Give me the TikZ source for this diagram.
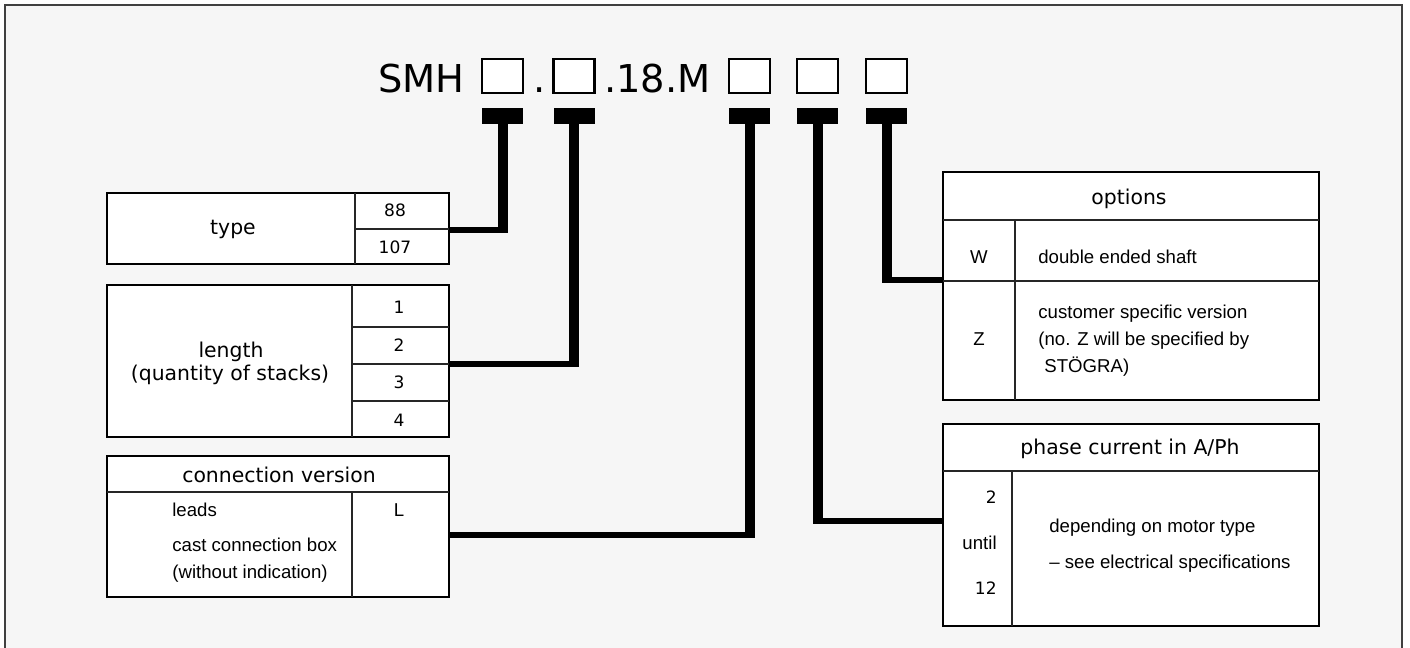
\documentclass[tikz,border=0pt]{standalone}
\usepackage{fontspec}
\setmainfont{Liberation Sans}
\newfontfamily\dejavu{DejaVu Sans}
\definecolor{bggray}{RGB}{246,246,246}
\definecolor{framegray}{RGB}{64,64,64}
\usetikzlibrary{calc}
\newdimen\px
\px=0.02cm
\tikzset{
  tbl/.style={draw=black, fill=white, line width=2.3\px, inner sep=0pt},
  cellline/.style={draw=black!85, line width=1.2\px},
  keysq/.style={draw=black, fill=white, line width=2.5\px, minimum width=41\px, minimum height=34\px, inner sep=0pt},
  tbar/.style={fill=black, minimum width=41\px, minimum height=16\px, inner sep=0pt},
  stem/.style={line width=10\px},
  lead/.style={line width=6\px},
  titletxt/.style={font=\dejavu\fontsize{21.85}{26}\selectfont, inner sep=0pt},
  lbl/.style={font=\dejavu\fontsize{11.6}{13}\selectfont, inner sep=0pt},
  num/.style={font=\dejavu\fontsize{9.7}{12}\selectfont, inner sep=0pt},
  txt/.style={font=\fontsize{10.6}{15.4}\selectfont, inner sep=0pt},
}

\begin{document}
\begin{tikzpicture}[x=0.02cm, y=-0.02cm]
  \useasboundingbox (0,0) rectangle (1410,648);
  \fill[bggray] (5,5) rectangle (1402,660);
  \draw[framegray, line width=2\px] (5,660) -- (5,5) -- (1402,5) -- (1402,660);

  \node[titletxt, anchor=base west] (smh) at (378,93) {SMH};
  \node[keysq] (b1) at (502.5,76) {};
  \node[titletxt, anchor=base] (dot1) at (540,93) {.};
  \node[keysq] (b2) at (574,76) {};
  \node[titletxt, anchor=base west] (mid) at (604,93) {.18.M};
  \node[keysq] (b3) at (749.5,76) {};
  \node[keysq] (b4) at (817.5,76) {};
  \node[keysq] (b5) at (886.5,76) {};

  \node[tbar] (t1) at (502.5,116) {};
  \node[tbar] (t2) at (574,116) {};
  \node[tbar] (t3) at (749.5,116) {};
  \node[tbar] (t4) at (817.5,116) {};
  \node[tbar] (t5) at (886.5,116) {};

  \node[tbl, minimum width=342\px, minimum height=71\px] (type) at (278,228.5) {};
  \draw[cellline] (355,193) -- (355,264);
  \draw[cellline] (355,229) -- (449,229);
  \node[lbl, anchor=base] (typelbl) at (233,235) {type};
  \node[num, anchor=base] (n88) at (395,217) {88};
  \node[num, anchor=base] (n107) at (395,254) {107};

  \node[tbl, minimum width=342\px, minimum height=152\px] (length) at (278,361) {};
  \draw[cellline] (352,285) -- (352,437);
  \draw[cellline] (352,327) -- (449,327) (352,364) -- (449,364) (352,401) -- (449,401);
  \node[lbl, anchor=base] (lenlbl) at (231,358) {length};
  \node[lbl, anchor=base] (lenqty) at (230,381) {(quantity of stacks)};
  \node[num, anchor=base] (n1) at (399,314) {1};
  \node[num, anchor=base] (n2) at (399,352) {2};
  \node[num, anchor=base] (n3) at (399,389) {3};
  \node[num, anchor=base] (n4) at (399,427) {4};

  \node[tbl, minimum width=342\px, minimum height=141\px] (conn) at (278,526.5) {};
  \draw[cellline] (107,492) -- (449,492);
  \draw[cellline] (352,492) -- (352,597);
  \node[lbl, anchor=base] (conhead) at (279,482) {connection version};
  \node[txt, anchor=base west] (leads) at (172,516) {leads};
  \node[txt, anchor=base west] (cast) at (172,551) {cast connection box};
  \node[txt, anchor=base west] (without) at (172,578) {(without indication)};
  \node[txt, anchor=base] (conL) at (399,516) {L};

  \node[tbl, minimum width=376\px, minimum height=228\px] (opts) at (1131,286) {};
  \draw[cellline] (943,220) -- (1319,220);
  \draw[cellline] (943,281) -- (1319,281);
  \draw[cellline] (1015,220) -- (1015,400);
  \node[lbl, anchor=base] (opthead) at (1129,205) {options};
  \node[txt, anchor=base] (optW) at (979,264) {W};
  \node[txt, anchor=base west] (optWtxt) at (1038,264) {double ended shaft};
  \node[txt, anchor=base] (optZ) at (979,346) {Z};
  \node[txt, anchor=base west] (optZa) at (1038,319) {customer specific version};
  \node[txt, anchor=base west] (optZb) at (1038,346) {(no. Z will be specified by};
  \node[txt, anchor=base west] (optZc) at (1044,373) {STÖGRA)};

  \node[tbl, minimum width=376\px, minimum height=202\px] (phase) at (1131,525) {};
  \draw[cellline] (943,471) -- (1319,471);
  \draw[cellline] (1012,471) -- (1012,626);
  \node[lbl, anchor=base] (phhead) at (1130,455) {phase current in A/Ph};
  \node[num, anchor=base east] (ph2) at (997,503) {2};
  \node[txt, anchor=base east] (phuntil) at (997,549) {until};
  \node[num, anchor=base east] (ph12) at (997,594) {12};
  \node[txt, anchor=base west] (phdep) at (1049,532) {depending on motor type};
  \node[txt, anchor=base west] (phsee) at (1049,568) {– see electrical specifications};

  \coordinate (typein) at ([yshift=-1.5\px]type.east);
  \coordinate (lenin) at ([yshift=-3\px]length.east);
  \coordinate (conin) at ([yshift=-8.5\px]conn.east);
  \coordinate (optin) at ([yshift=6\px]opts.west);
  \coordinate (phin) at ([yshift=4\px]phase.west);

  \draw[stem] (t1.south) -- ([yshift=-3\px]t1.south |- typein);
  \draw[lead] (typein) -- ([xshift=5\px]t1.south |- typein);
  \draw[stem] (t2.south) -- ([yshift=-3\px]t2.south |- lenin);
  \draw[lead] (lenin) -- ([xshift=5\px]t2.south |- lenin);
  \draw[stem] (t3.south) -- ([yshift=-3\px]t3.south |- conin);
  \draw[lead] (conin) -- ([xshift=5\px]t3.south |- conin);
  \draw[stem] (t4.south) -- ([yshift=-3\px]t4.south |- phin);
  \draw[lead] (phin) -- ([xshift=-5\px]t4.south |- phin);
  \draw[stem] (t5.south) -- ([yshift=-3\px]t5.south |- optin);
  \draw[lead] (optin) -- ([xshift=-5\px]t5.south |- optin);
\end{tikzpicture}
\end{document}
